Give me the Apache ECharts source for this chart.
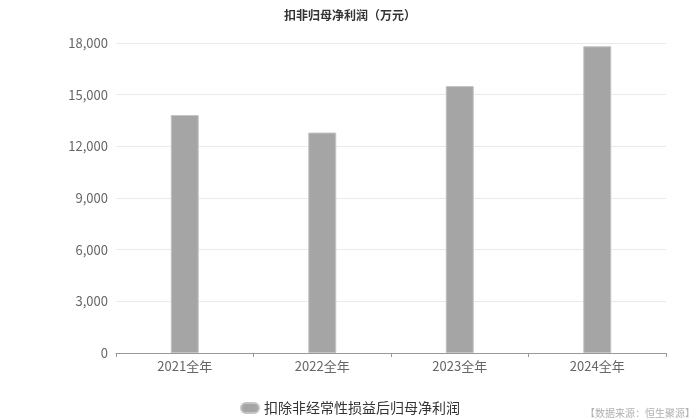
<!DOCTYPE html>
<html>
<head>
<meta charset="utf-8">
<script src="https://cdn.jsdelivr.net/npm/echarts@6/dist/echarts.min.js"></script>
<style>html,body{margin:0;padding:0;background:#fff;}#c{width:700px;height:420px;}</style>
</head>
<body>
<div id="c"></div>
<script>
var categories = ['2021全年', '2022全年', '2023全年', '2024全年'];
var seriesName = '扣除非经常性损益后归母净利润';
var values = [13820, 12800, 15500, 17810];
var titleText = '扣非归母净利润（万元）';
var sourceText = '【数据来源：恒生聚源】';

var chart = echarts.init(document.getElementById('c'));
var font = '"Noto Sans CJK SC", "Noto Sans", sans-serif';
chart.setOption({
  backgroundColor: '#ffffff',
  animation: false,
  textStyle: { fontFamily: font },
  title: {
    text: titleText,
    left: 'center',
    top: 4,
    textStyle: { fontSize: 12, fontWeight: 'bold', color: '#333', fontFamily: font }
  },
  graphic: [{
    type: 'text',
    right: 5,
    top: 408,
    style: { text: sourceText, fontSize: 10, fill: '#b0b0b0', fontFamily: font }
  }],
  legend: {
    data: [seriesName],
    bottom: 0,
    left: 'center',
    icon: 'path://M5,0 L13,0 A5,5 0 0 1 13,10 L5,10 A5,5 0 0 1 5,0 Z',
    itemWidth: 18,
    itemHeight: 10,
    itemGap: 10,
    textStyle: { fontSize: 14, color: '#333', fontFamily: font }
  },
  grid: { left: 116, right: 34, top: 43, bottom: 67, containLabel: false },
  xAxis: {
    type: 'category',
    data: categories,
    axisLine: { lineStyle: { color: '#999' } },
    axisTick: { show: true, alignWithLabel: false, lineStyle: { color: '#999' }, length: 4 },
    axisLabel: { fontSize: 13, color: '#666', margin: 7, fontFamily: font }
  },
  yAxis: {
    type: 'value',
    min: 0,
    max: 18000,
    interval: 3000,
    axisLine: { show: false },
    axisTick: { show: false },
    splitLine: { lineStyle: { color: '#e8eaf0' } },
    axisLabel: {
      fontSize: 13, color: '#666', margin: 8, fontFamily: font,
      formatter: function (v) { return v.toLocaleString('en-US'); }
    }
  },
  series: [{
    name: seriesName,
    type: 'bar',
    data: values,
    barWidth: 28,
    itemStyle: { color: '#a5a5a5', borderColor: '#c4c4c4', borderWidth: 1 }
  }]
});
</script>
</body>
</html>
